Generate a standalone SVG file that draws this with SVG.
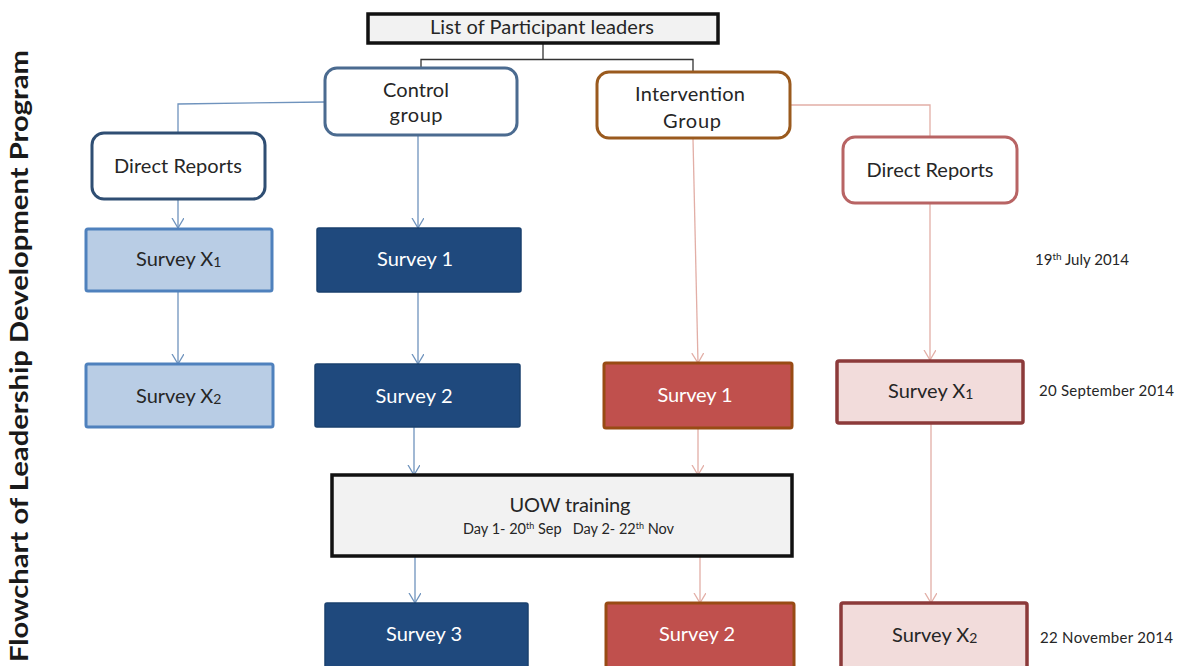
<svg xmlns="http://www.w3.org/2000/svg" width="1182" height="666" viewBox="0 0 1182 666">
<style>
text{font-family:Lato,"Liberation Sans",sans-serif;fill:#262626;}
.lbl{font-size:20px;text-anchor:middle;}
.wt{fill:#ffffff;}
.date{font-size:15px;}
.bline{fill:none;stroke:#6f93bd;stroke-width:1.3;}
.rline{fill:none;stroke:#e2aea6;stroke-width:1.3;}
.kline{fill:none;stroke:#333333;stroke-width:1.3;}
.round{fill:#ffffff;stroke-width:3;}
</style>
<defs>
<marker id="ab" markerUnits="userSpaceOnUse" markerWidth="14" markerHeight="14" refX="10" refY="6" orient="auto">
<path d="M0,0 L10,6 L0,12" fill="none" stroke="#6f93bd" stroke-width="1.3"/>
</marker>
<marker id="ar" markerUnits="userSpaceOnUse" markerWidth="14" markerHeight="14" refX="10" refY="6" orient="auto">
<path d="M0,0 L10,6 L0,12" fill="none" stroke="#e2aea6" stroke-width="1.3"/>
</marker>
</defs>
<rect width="1182" height="666" fill="#ffffff"/>

<text id="title" transform="translate(28,662) rotate(-90)" x="0" y="0" font-family="'Open Sans','Liberation Sans',sans-serif" font-weight="bold" font-size="24" textLength="612" lengthAdjust="spacingAndGlyphs" style="fill:#1a1a1a">Flowchart of Leadership Development Program</text>

<g id="connectors">
<polyline class="kline" points="543,43 543,59.5"/>
<polyline class="kline" points="421,68 421,59.5 693,59.5 693,72"/>
<polyline class="bline" points="325,102 178,104 178,133"/>
<polyline class="rline" points="790,105 930,105 930,137"/>
<line class="bline" x1="178" y1="199" x2="178" y2="228" marker-end="url(#ab)"/>
<line class="bline" x1="418" y1="136" x2="418" y2="228" marker-end="url(#ab)"/>
<line class="bline" x1="178" y1="291" x2="178" y2="364" marker-end="url(#ab)"/>
<line class="bline" x1="418" y1="292" x2="418" y2="364" marker-end="url(#ab)"/>
<line class="rline" x1="693" y1="139" x2="698" y2="363" marker-end="url(#ar)"/>
<line class="rline" x1="930" y1="203" x2="930" y2="360" marker-end="url(#ar)"/>
<line class="bline" x1="414" y1="427" x2="414" y2="475" marker-end="url(#ab)"/>
<line class="rline" x1="698" y1="428" x2="698" y2="475" marker-end="url(#ar)"/>
<line class="bline" x1="415" y1="556" x2="415" y2="603" marker-end="url(#ab)"/>
<line class="rline" x1="700" y1="556" x2="700" y2="603" marker-end="url(#ar)"/>
<line class="rline" x1="931" y1="423" x2="931" y2="603" marker-end="url(#ar)"/>
</g>

<g id="list">
<rect x="368" y="14" width="350" height="29" fill="#f2f2f2" stroke="#111111" stroke-width="3.5"/>
<text class="lbl" x="542" y="34" font-size="19" textLength="224">List of Participant leaders</text>
</g>

<g id="control">
<rect class="round" x="325" y="68" width="192" height="67" rx="12" stroke="#4b6b90"/>
<text class="lbl" x="416" y="97" textLength="66">Control</text>
<text class="lbl" x="416" y="122" textLength="53">group</text>
</g>

<g id="intervention">
<rect class="round" x="597" y="72" width="193" height="66" rx="12" stroke="#9a5a1e"/>
<text class="lbl" x="690" y="101" textLength="110">Intervention</text>
<text class="lbl" x="692" y="128" textLength="58">Group</text>
</g>

<g id="dr-left">
<rect class="round" x="92" y="133" width="173" height="66" rx="12" stroke="#2f4e73"/>
<text class="lbl" x="178" y="173" textLength="128">Direct Reports</text>
</g>

<g id="dr-right">
<rect class="round" x="843" y="137" width="174" height="66" rx="12" stroke="#b86464"/>
<text class="lbl" x="930" y="177" textLength="127">Direct Reports</text>
</g>

<g id="c-sx1">
<rect x="86" y="229" width="186" height="62" rx="2" fill="#b9cde5" stroke="#4f81bd" stroke-width="3"/>
<text x="136" y="266" font-size="20">Survey X<tspan font-size="14" dy="1">1</tspan></text>
</g>

<g id="c-s1">
<rect x="317" y="228" width="204" height="64" rx="2" fill="#1f497d" stroke="#1a406e" stroke-width="1.5"/>
<text class="lbl wt" x="415" y="266" textLength="76">Survey 1</text>
</g>

<g id="c-sx2">
<rect x="86" y="364" width="187" height="63" rx="2" fill="#b9cde5" stroke="#4f81bd" stroke-width="3"/>
<text x="136" y="403" font-size="20">Survey X<tspan font-size="14" dy="1">2</tspan></text>
</g>

<g id="c-s2">
<rect x="315" y="364" width="205" height="63" rx="2" fill="#1f497d" stroke="#1a406e" stroke-width="1.5"/>
<text class="lbl wt" x="414" y="403" textLength="77">Survey 2</text>
</g>

<g id="i-s1">
<rect x="604" y="363" width="188" height="65" rx="2" fill="#c0504d" stroke="#984b14" stroke-width="3"/>
<text class="lbl wt" x="695" y="402" textLength="75">Survey 1</text>
</g>

<g id="i-sx1">
<rect x="837" y="361" width="186" height="62" rx="2" fill="#f2dcdb" stroke="#8c3a3a" stroke-width="3.5"/>
<text x="888" y="398" font-size="20">Survey X<tspan font-size="14" dy="1">1</tspan></text>
</g>

<g id="uow">
<rect x="332" y="475" width="460" height="81" fill="#f2f2f2" stroke="#111111" stroke-width="3.5"/>
<text class="lbl" x="570" y="512" font-size="19" textLength="121">UOW training</text>
<text x="463" y="534" font-size="14.5" xml:space="preserve">Day 1- 20<tspan font-size="9" dy="-5">th</tspan><tspan dy="5"> Sep   Day 2- 22</tspan><tspan font-size="9" dy="-5">th</tspan><tspan dy="5"> Nov</tspan></text>
</g>

<g id="c-s3">
<rect x="325" y="603" width="203" height="70" rx="2" fill="#1f497d" stroke="#1a406e" stroke-width="1.5"/>
<text class="lbl wt" x="424" y="641" textLength="76">Survey 3</text>
</g>

<g id="i-s2">
<rect x="606" y="603" width="188" height="70" rx="2" fill="#c0504d" stroke="#984b14" stroke-width="3"/>
<text class="lbl wt" x="697" y="641" textLength="76">Survey 2</text>
</g>

<g id="i-sx2">
<rect x="841" y="603" width="186" height="70" rx="2" fill="#f2dcdb" stroke="#8c3a3a" stroke-width="3.5"/>
<text x="892" y="642" font-size="20">Survey X<tspan font-size="14" dy="1">2</tspan></text>
</g>

<g id="dates">
<text class="date" x="1035" y="265">19<tspan font-size="10" dy="-5">th</tspan><tspan dy="5"> July 2014</tspan></text>
<text class="date" x="1039" y="396" textLength="135">20 September 2014</text>
<text class="date" x="1040" y="643" textLength="133">22 November 2014</text>
</g>
</svg>
